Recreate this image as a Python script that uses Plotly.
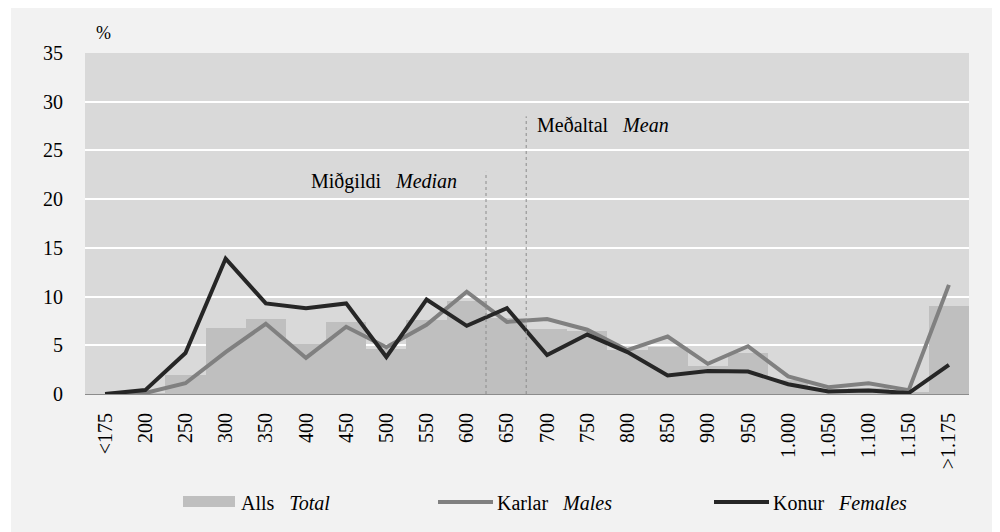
import plotly.graph_objects as go

categories = ["<175", "200", "250", "300", "350", "400", "450", "500", "550", "600", "650",
              "700", "750", "800", "850", "900", "950", "1.000", "1.050", "1.100", "1.150", ">1.175"]
total = [0.0, 0.1, 1.9, 6.8, 7.7, 5.1, 7.4, 4.6, 7.6, 9.5, 7.8,
         6.7, 6.5, 4.5, 4.8, 2.9, 4.2, 1.4, 0.5, 0.6, 0.2, 9.0]
males = [0.0, 0.1, 1.1, 4.3, 7.2, 3.7, 6.9, 4.8, 7.1, 10.5, 7.4,
         7.7, 6.6, 4.5, 5.9, 3.1, 4.9, 1.8, 0.7, 1.1, 0.4, 11.2]
females = [0.0, 0.4, 4.2, 13.9, 9.3, 8.8, 9.3, 3.8, 9.7, 7.0, 8.8,
           4.0, 6.1, 4.3, 1.9, 2.35, 2.3, 1.0, 0.25, 0.35, 0.1, 3.0]
y_ticks = [0, 5, 10, 15, 20, 25, 30, 35]

median_pos, median_top = 9.48, 22.8
mean_pos, mean_top = 10.48, 28.5

FONT = "Liberation Serif, Times New Roman, Times, DejaVu Serif, serif"
OFF = 8  # page body margin
W, H = 992, 524
L, R, T, B = 77, 31, 45, 138
PW, PH = W - L - R, H - T - B
GAP = " \u00a0\u00a0"


def px(x):
    """page pixel x -> paper fraction"""
    return (x - OFF - L) / PW


def py(y):
    """page pixel y -> paper fraction"""
    return (H - B - (y - OFF)) / PH


fig = go.Figure()
fig.add_trace(go.Bar(x=categories, y=total, name="Alls Total", marker_color="#bfbfbf",
                     marker_line_width=0, showlegend=False))
fig.add_trace(go.Scatter(x=categories, y=males, name="Karlar Males", mode="lines",
                         line=dict(color="#808080", width=4), showlegend=False))
fig.add_trace(go.Scatter(x=categories, y=females, name="Konur Females", mode="lines",
                         line=dict(color="#262626", width=4), showlegend=False))

shapes = [
    dict(type="rect", xref="paper", yref="paper", x0=px(8), x1=px(11), y0=py(8), y1=py(532),
         fillcolor="white", line_width=0, layer="below"),
    # median / mean reference lines
    dict(type="line", xref="x", yref="y", x0=median_pos, x1=median_pos, y0=0, y1=median_top,
         line=dict(color="#8c8c8c", width=1, dash="dot")),
    dict(type="line", xref="x", yref="y", x0=mean_pos, x1=mean_pos, y0=0, y1=mean_top,
         line=dict(color="#8c8c8c", width=1, dash="dot")),
    # custom legend symbols
    dict(type="rect", xref="paper", yref="paper", x0=px(183), x1=px(235), y0=py(507), y1=py(496),
         fillcolor="#bfbfbf", line_width=0),
    dict(type="line", xref="paper", yref="paper", x0=px(438), x1=px(493), y0=py(502), y1=py(502),
         line=dict(color="#808080", width=4)),
    dict(type="line", xref="paper", yref="paper", x0=px(714), x1=px(769), y0=py(502), y1=py(502),
         line=dict(color="#262626", width=4)),
]

tf = dict(family=FONT, size=20, color="#000")
annots = [
    dict(text="%", xref="paper", yref="paper", x=px(94), y=py(33), xanchor="left", yanchor="middle",
         showarrow=False, font=dict(family=FONT, size=18, color="#000")),
    dict(text="Miðgildi" + GAP + "<i>Median</i>", xref="paper", yref="paper", x=px(459), y=py(181),
         xanchor="right", yanchor="middle", showarrow=False, font=tf),
    dict(text="Meðaltal" + GAP + "<i>Mean</i>", xref="paper", yref="paper", x=px(535), y=py(125),
         xanchor="left", yanchor="middle", showarrow=False, font=tf),
    dict(text="Alls" + GAP + "<i>Total</i>", xref="paper", yref="paper", x=px(239), y=py(503),
         xanchor="left", yanchor="middle", showarrow=False, font=tf),
    dict(text="Karlar" + GAP + "<i>Males</i>", xref="paper", yref="paper", x=px(495), y=py(503),
         xanchor="left", yanchor="middle", showarrow=False, font=tf),
    dict(text="Konur" + GAP + "<i>Females</i>", xref="paper", yref="paper", x=px(771), y=py(503),
         xanchor="left", yanchor="middle", showarrow=False, font=tf),
]

fig.update_layout(
    width=W, height=H,
    margin=dict(l=L, r=R, t=T, b=B, autoexpand=False),
    paper_bgcolor="#f2f2f2",
    plot_bgcolor="#d9d9d9",
    bargap=0,
    font=tf,
    shapes=shapes,
    annotations=annots,
    xaxis=dict(type="category", tickangle=-90, showgrid=False, showline=True, linecolor="#8c8c8c",
               linewidth=1, ticks="", tickfont=tf,
               ticklabelstandoff=10, range=[-0.5, len(categories) - 0.5], fixedrange=True),
    yaxis=dict(range=[0, 35], tickvals=y_ticks, showgrid=True, gridcolor="white", gridwidth=2,
               zeroline=False, ticks="", tickfont=tf,
               ticklabelstandoff=21, fixedrange=True),
)

fig.write_html("out.html")
